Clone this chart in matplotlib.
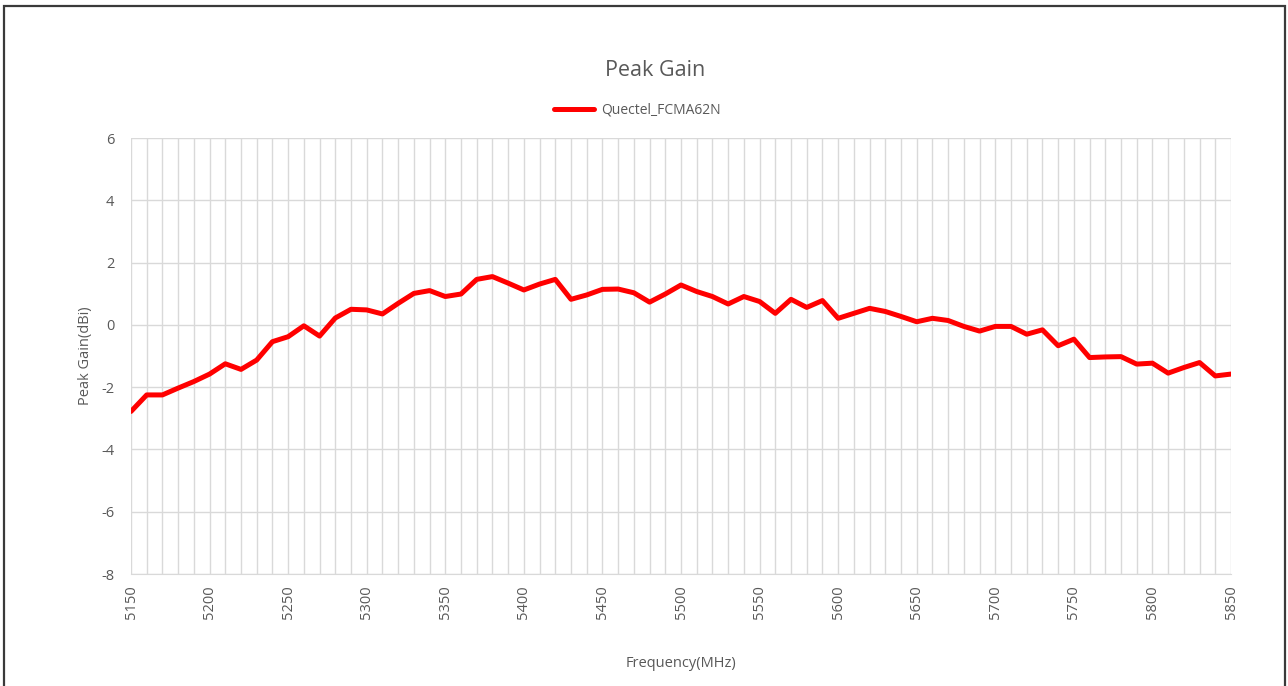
import matplotlib
matplotlib.use("Agg")
import matplotlib.pyplot as plt
from matplotlib.patches import Rectangle

freq_mhz = list(range(5150, 5851, 10))
peak_gain_dbi = [
    -2.78, -2.25, -2.25, -2.03, -1.82, -1.58, -1.25, -1.43, -1.13, -0.54,
    -0.38, -0.03, -0.36, 0.22, 0.50, 0.48, 0.35, 0.69, 1.01, 1.10,
    0.91, 0.99, 1.46, 1.55, 1.34, 1.12, 1.31, 1.46, 0.82, 0.96,
    1.14, 1.15, 1.03, 0.73, 0.99, 1.28, 1.07, 0.91, 0.67, 0.91,
    0.75, 0.37, 0.82, 0.56, 0.78, 0.21, 0.37, 0.53, 0.43, 0.27,
    0.10, 0.21, 0.14, -0.05, -0.20, -0.05, -0.05, -0.30, -0.16, -0.67,
    -0.46, -1.05, -1.03, -1.02, -1.26, -1.23, -1.55, -1.37, -1.21, -1.64,
    -1.58,
]
series_name = "Quectel_FCMA62N"
title = "Peak Gain"
x_label = "Frequency(MHz)"
y_label = "Peak Gain(dBi)"
x_ticks = list(range(5150, 5851, 50))
y_ticks = list(range(-8, 7, 2))

plt.rcParams['font.family'] = ['Open Sans', 'DejaVu Sans']
text_col = "#595959"
grid_col = "#d9d9d9"

fig = plt.figure(figsize=(12.88, 6.86), dpi=100)
ax = fig.add_axes([131/1288, 1-574/686, 1100/1288, 436/686])

ax.plot(freq_mhz, peak_gain_dbi, color="#ff0000", lw=3.6,
        solid_joinstyle="round", solid_capstyle="round", label=series_name,
        zorder=3)

ax.set_xlim(5150, 5850)
ax.set_ylim(-8, 6)
ax.set_xticks(x_ticks)
ax.set_xticks(list(range(5150, 5851, 10)), minor=True)
ax.set_yticks(y_ticks)
ax.set_xticklabels([str(v) for v in x_ticks], rotation=90, color=text_col, fontsize=10.5)
ax.set_yticklabels([str(v) for v in y_ticks], color=text_col, fontsize=10.5)
ax.tick_params(axis="both", which="both", length=0)
ax.tick_params(axis="x", pad=8)
ax.tick_params(axis="y", pad=12)
ax.grid(True, which="both", axis="x", color=grid_col, lw=1.0)
ax.grid(True, which="major", axis="y", color=grid_col, lw=1.0)
for s in ax.spines.values():
    s.set_visible(False)
ax.spines["bottom"].set_visible(True)
ax.spines["bottom"].set_color(grid_col)
ax.set_axisbelow(True)

ax.set_xlabel(x_label, color=text_col, fontsize=10.5, labelpad=27)
ax.set_ylabel(y_label, color=text_col, fontsize=10.5, labelpad=6)

fig.text(655/1288, 1-70/686, title, ha="center", va="center", fontsize=15.5, color=text_col)
leg = ax.legend(loc="center", bbox_to_anchor=(637/1288, 1-110/686), bbox_transform=fig.transFigure,
                frameon=False, fontsize=10, handlelength=2.9, handletextpad=0.5)
for t in leg.get_texts():
    t.set_color(text_col)

fig.patches.append(Rectangle((4/1288, -0.01), 1281/1288, 1-6/686+0.01, transform=fig.transFigure,
                             fill=False, edgecolor="#3a3a3a", lw=1.6))

fig.savefig("out.png", dpi=100, facecolor="white")
